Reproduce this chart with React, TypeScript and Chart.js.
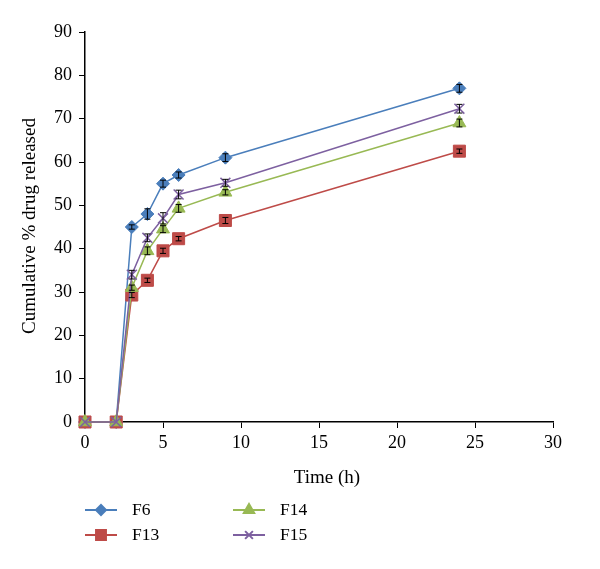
import { useEffect, useRef } from "react";
import { Chart, registerables } from "chart.js";
import { drawPoint } from "chart.js/helpers";

Chart.register(...registerables);

const times = [0, 2, 3, 4, 5, 6, 9, 24];
const seriesNames = ["F6", "F13", "F14", "F15"];
const f6 = [0, 0, 45, 48, 55, 57, 61, 77];
const f13 = [0, 0, 29.3, 32.7, 39.5, 42.3, 46.5, 62.5];
const f14 = [0, 0, 31, 39.5, 44.5, 49.3, 53, 69];
const f15 = [0, 0, 34, 42.5, 47, 52.5, 55.2, 72.3];
const f6Err = [0, 0, 0.5, 1.2, 0.8, 0.7, 0.9, 0.9];
const f13Err = [0, 0, 0.6, 0.5, 0.6, 0.5, 0.7, 0.5];
const f14Err = [0, 0, 0.6, 0.9, 0.8, 0.9, 0.6, 0.9];
const f15Err = [0, 0, 1.0, 0.9, 1.3, 1.0, 0.8, 1.0];
const xTitle = "Time (h)";
const yTitle = "Cumulative % drug released";

const colors = ["#4A7EBB", "#BE4B48", "#98B954", "#7D60A0"];
const markers = ["rectRot", "rect", "triangle", "crossRot"];
const radii = [6.5, 8.5, 7.5, 7];
const allValues = [f6, f13, f14, f15];
const allErrors = [f6Err, f13Err, f14Err, f15Err];

const FONT = "'Liberation Serif', 'Times New Roman', serif";

export default function App() {
  const ref = useRef<HTMLCanvasElement | null>(null);
  useEffect(() => {
    if (!ref.current) return;
    const errorPlugin = {
      id: "errbars",
      afterDatasetsDraw(chart: any) {
        const ctx = chart.ctx;
        const xs = chart.scales.x;
        const ys = chart.scales.y;
        ctx.save();
        ctx.strokeStyle = "#000";
        ctx.lineWidth = 1;
        allValues.forEach((vals, i) => {
          vals.forEach((v, j) => {
            const e = allErrors[i][j];
            if (!e) return;
            const px = xs.getPixelForValue(times[j]);
            const top = ys.getPixelForValue(v + e);
            const bot = ys.getPixelForValue(v - e);
            ctx.beginPath();
            ctx.moveTo(px, top);
            ctx.lineTo(px, bot);
            ctx.moveTo(px - 3, top);
            ctx.lineTo(px + 3, top);
            ctx.moveTo(px - 3, bot);
            ctx.lineTo(px + 3, bot);
            ctx.stroke();
          });
        });
        ctx.restore();
      },
      afterDraw(chart: any) {
        const ctx = chart.ctx;
        const ca = chart.chartArea;
        ctx.save();
        ctx.fillStyle = "#000";
        ctx.font = `19px ${FONT}`;
        ctx.textAlign = "center";
        ctx.textBaseline = "middle";
        ctx.fillText(xTitle, (ca.left + ca.right) / 2 + 8, 478);
        ctx.save();
        ctx.translate(30, 226);
        ctx.rotate(-Math.PI / 2);
        ctx.fillText(yTitle, 0, 0);
        ctx.restore();
        // legend
        ctx.font = `17.5px ${FONT}`;
        const cols = [85, 233];
        const rows = [510, 535];
        const order = [
          [0, 0, 0],
          [1, 0, 1],
          [2, 1, 0],
          [3, 1, 1],
        ];
        order.forEach(([i, c, r]) => {
          const x0 = cols[c];
          const y = rows[r];
          ctx.strokeStyle = colors[i];
          ctx.lineWidth = 2;
          ctx.beginPath();
          ctx.moveTo(x0, y);
          ctx.lineTo(x0 + 32, y);
          ctx.stroke();
          ctx.fillStyle = colors[i];
          drawPoint(
            ctx,
            { pointStyle: markers[i], radius: radii[i] - 1.5, borderWidth: 1.5, rotation: 0 } as any,
            x0 + 16,
            y
          );
          ctx.fillStyle = "#000";
          ctx.textAlign = "left";
          ctx.fillText(seriesNames[i], x0 + 47, y);
        });
        ctx.restore();
      },
    };
    const chart = new Chart(ref.current, {
      type: "line",
      data: {
        datasets: allValues.map((vals, i) => ({
          label: seriesNames[i],
          data: vals.map((v, j) => ({ x: times[j], y: v })),
          borderColor: colors[i],
          backgroundColor: colors[i],
          borderWidth: 1.5,
          pointStyle: markers[i] as any,
          pointRadius: radii[i],
          pointBorderWidth: markers[i] === "crossRot" ? 1.5 : 1,
          pointBorderColor: colors[i],
          pointBackgroundColor: colors[i],
          tension: 0,
          clip: false as any,
          order: allValues.length - 1 - i,
        })),
      },
      options: {
        responsive: false,
        animation: false,
        devicePixelRatio: 1,
        layout: { padding: { top: 32, right: 47, left: 0, bottom: 0 } },
        plugins: { legend: { display: false }, tooltip: { enabled: false } },
        scales: {
          x: {
            type: "linear",
            min: 0,
            max: 30,
            ticks: { stepSize: 5, color: "#000", font: { family: FONT, size: 18 }, padding: 4 },
            grid: { drawOnChartArea: false, tickLength: 6, color: "#000" },
            border: { color: "#000", width: 1.5 },
            afterFit: (s: any) => {
              s.height = 147;
            },
          },
          y: {
            type: "linear",
            min: 0,
            max: 90,
            ticks: { stepSize: 10, color: "#000", font: { family: FONT, size: 18 }, padding: 7 },
            grid: { drawOnChartArea: false, tickLength: 6, color: "#000" },
            border: { color: "#000", width: 1.5 },
            afterFit: (s: any) => {
              s.width = 85;
            },
          },
        },
      },
      plugins: [errorPlugin],
    });
    return () => chart.destroy();
  }, []);
  return (
    <div style={{ position: "absolute", left: 0, top: 0, width: 600, height: 569, background: "#fff" }}>
      <canvas ref={ref} width={600} height={569} />
    </div>
  );
}
